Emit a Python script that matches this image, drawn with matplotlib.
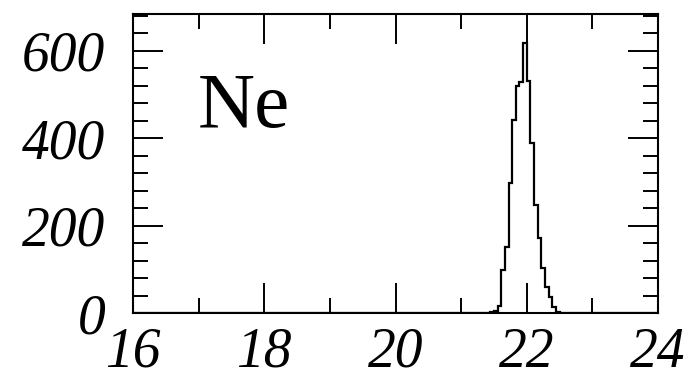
import numpy as np
import matplotlib
matplotlib.use("Agg")
import matplotlib.pyplot as plt
from matplotlib.ticker import MultipleLocator

# Histogram binning: 144 bins over 16-24
x_min, x_max = 16.0, 24.0
n_bins = 144
first_bin = 90  # index of the first listed bin
counts = [1, 1, 1, 1, 1, 1, 1, 1,
          2, 4, 16, 98, 152, 297, 442, 520, 529, 617,
          530, 389, 247, 172, 103, 60, 37, 14, 3, 1, 1]

x_ticks = [16, 18, 20, 22, 24]
y_ticks = [0, 200, 400, 600]
label = "Ne"

edges = np.linspace(x_min, x_max, n_bins + 1)
values = np.zeros(n_bins)
values[first_bin:first_bin + len(counts)] = counts

fig = plt.figure(figsize=(6.92, 3.71), dpi=100)
ax = fig.add_axes([133 / 692, 1 - 313 / 371, (658 - 133) / 692, (313 - 14) / 371])

ax.stairs(values, edges, color="black", linewidth=1.6)

ax.set_xlim(x_min, x_max)
ax.set_ylim(0, 684)

ax.xaxis.set_major_locator(MultipleLocator(2))
ax.xaxis.set_minor_locator(MultipleLocator(1))
ax.yaxis.set_major_locator(MultipleLocator(200))
ax.yaxis.set_minor_locator(MultipleLocator(40))
ax.set_xticks(x_ticks)
ax.set_yticks(y_ticks)

for s in ax.spines.values():
    s.set_linewidth(1.5)

ax.tick_params(which="both", direction="in", top=True, right=True, width=1.4)
ax.tick_params(which="major", length=21.5)
ax.tick_params(which="minor", length=11)
ax.tick_params(axis="x", which="major", pad=10)
ax.tick_params(axis="y", which="major", pad=20)

tick_font = dict(family="Liberation Serif", style="italic", size=40)
ax.set_xticklabels([str(v) for v in x_ticks], fontdict=tick_font)
ax.set_yticklabels([str(v) for v in y_ticks], fontdict=tick_font)

ax.text(16.99, 425, label, family="Liberation Serif", fontsize=57,
        ha="left", va="baseline", color="black")

fig.savefig("out.png", dpi=100)
